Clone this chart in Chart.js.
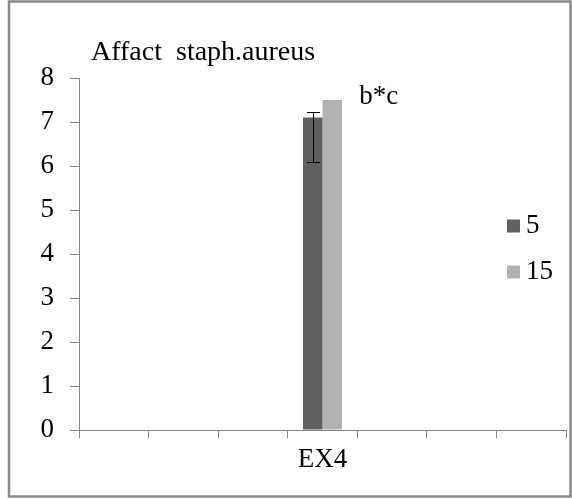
<!DOCTYPE html>
<html>
<head>
<meta charset="utf-8">
<script src="https://cdn.jsdelivr.net/npm/chart.js@4"></script>
<style>
  html, body { margin: 0; padding: 0; background: #ffffff; }
  canvas { display: block; }
</style>
</head>
<body>
<canvas id="chart" width="572" height="499"></canvas>
<script>
// Categories along the x axis (only the fourth one is named)
const categories = ['', '', '', 'EX4', '', '', ''];
// Series names shown in the legend
const seriesNames = ['5', '15'];
// Bar values per category
const values5 = [null, null, null, 7.1, null, null, null];
const values15 = [null, null, null, 7.5, null, null, null];
// Error range of the "5" series
const err5Low = [null, null, null, 6.1, null, null, null];
const err5High = [null, null, null, 7.22, null, null, null];
// Significance letters written above the "15" bars
const letters15 = ['', '', '', 'b*c', '', '', ''];
// Value axis range
const yMin = 0, yMax = 8, yStep = 1;

const chartTitle = 'Affact  staph.aureus';
const FONT = '"Liberation Serif", "DejaVu Serif", serif';
const FONT_SIZE = 27;
const TITLE_SIZE = 28;
const AXIS_GREY = '#868686';
const COLORS = ['#606060', '#b2b2b2'];

// Outer frame, title, error bars, letters and legend
const decorations = {
  id: 'decorations',
  afterDatasetsDraw(chart) {
    const ctx = chart.ctx;
    const y = chart.scales.y;
    const meta5 = chart.getDatasetMeta(0);
    const meta15 = chart.getDatasetMeta(1);
    ctx.save();
    // error bars on series "5"
    ctx.strokeStyle = '#000';
    ctx.lineWidth = 1;
    err5Low.forEach((lo, i) => {
      const hi = err5High[i];
      if (lo == null || hi == null) return;
      const bar = meta5.data[i];
      const x = Math.round(bar.x) + 0.5;
      const yLo = Math.round(y.getPixelForValue(lo)) + 0.5;
      const yHi = Math.round(y.getPixelForValue(hi)) + 0.5;
      ctx.beginPath();
      ctx.moveTo(x, yLo); ctx.lineTo(x, yHi);
      ctx.moveTo(x - 6.5, yLo); ctx.lineTo(x + 6.5, yLo);
      ctx.moveTo(x - 6.5, yHi); ctx.lineTo(x + 6.5, yHi);
      ctx.stroke();
    });
    // letters next to the top of series "15"
    ctx.fillStyle = '#000';
    ctx.font = FONT_SIZE + 'px ' + FONT;
    ctx.textAlign = 'left';
    ctx.textBaseline = 'alphabetic';
    letters15.forEach((t, i) => {
      if (!t) return;
      const bar = meta15.data[i];
      ctx.fillText(t, bar.x + 27, bar.y + 4);
    });
    ctx.restore();
  },
  afterDraw(chart) {
    const ctx = chart.ctx;
    const area = chart.chartArea;
    ctx.save();
    // frame
    ctx.strokeStyle = '#8a8a8a';
    ctx.lineWidth = 2.5;
    ctx.strokeRect(9, 1.5, chart.width - 10.5, chart.height - 4);
    // title
    ctx.fillStyle = '#000';
    ctx.font = TITLE_SIZE + 'px ' + FONT;
    ctx.textAlign = 'left';
    ctx.textBaseline = 'alphabetic';
    ctx.fillText(chartTitle, area.left + 12, area.top - 18);
    // legend
    ctx.font = FONT_SIZE + 'px ' + FONT;
    const legendX = 507;
    const midY = (area.top + area.bottom) / 2 - 28;
    chart.data.datasets.forEach((ds, i) => {
      const cy = midY + i * 46;
      ctx.fillStyle = ds.backgroundColor;
      ctx.fillRect(legendX, cy - 6.5, 13, 13);
      ctx.fillStyle = '#000';
      ctx.textBaseline = 'middle';
      ctx.fillText(ds.label, legendX + 19, cy);
    });
    ctx.restore();
  }
};

function build() {
  new Chart(document.getElementById('chart'), {
    type: 'bar',
    data: {
      labels: categories,
      datasets: [
        { label: seriesNames[0], data: values5, backgroundColor: COLORS[0], borderWidth: 0 },
        { label: seriesNames[1], data: values15, backgroundColor: COLORS[1], borderWidth: 0 }
      ]
    },
    options: {
      responsive: false,
      animation: false,
      devicePixelRatio: 1,
      layout: { padding: { top: 78, right: 6, left: 0, bottom: 0 } },
      categoryPercentage: 0.56,
      barPercentage: 1,
      plugins: {
        legend: { display: false },
        title: { display: false },
        tooltip: { enabled: false }
      },
      scales: {
        x: {
          grid: { offset: true, drawOnChartArea: false, drawTicks: true, tickLength: 8, color: AXIS_GREY },
          border: { color: AXIS_GREY, width: 1 },
          ticks: { color: '#000', font: { family: FONT, size: FONT_SIZE }, padding: 6, maxRotation: 0, autoSkip: false },
          afterFit(scale) { scale.height = 69; }
        },
        y: {
          min: yMin,
          max: yMax,
          grid: { drawOnChartArea: false, drawTicks: true, tickLength: 9, color: AXIS_GREY },
          border: { color: AXIS_GREY, width: 1 },
          ticks: { stepSize: yStep, color: '#000', font: { family: FONT, size: FONT_SIZE }, padding: 16 },
          afterFit(scale) { scale.width = 79; }
        }
      }
    },
    plugins: [decorations]
  });
}

// make sure the serif face is ready before drawing text on the canvas
Promise.all([
  document.fonts.load(FONT_SIZE + 'px "Liberation Serif"'),
  document.fonts.load(FONT_SIZE + 'px "DejaVu Serif"')
]).catch(() => {}).then(build);
</script>
</body>
</html>
